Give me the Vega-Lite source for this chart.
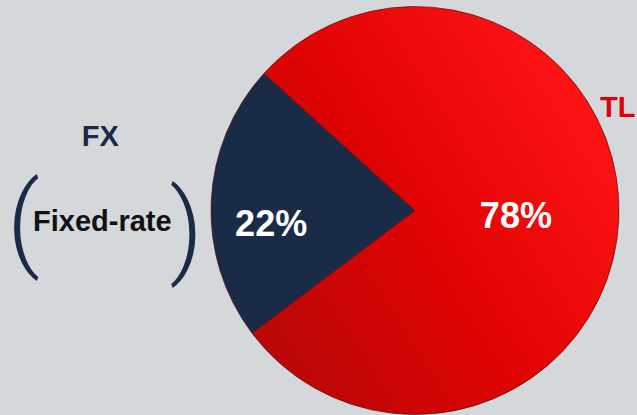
{
  "$schema": "https://vega.github.io/schema/vega-lite/v6.json",
  "width": 410,
  "height": 409,
  "autosize": "none",
  "padding": {"left": 210, "top": 6, "right": 17, "bottom": 0},
  "background": "#d5d8db",
  "config": {"view": {"stroke": null}},
  "data": {"values": [
    {"label": "FX", "share": 0.22, "detail": "Fixed-rate"},
    {"label": "TL", "share": 0.78, "detail": ""}
  ]},
  "encoding": {
    "theta": {"field": "share", "type": "quantitative", "stack": true, "scale": {"range": [4.067, 10.350]}},
    "order": {"field": "label", "sort": "ascending"}
  },
  "layer": [
    {
      "mark": {"type": "arc", "outerRadius": 204, "stroke": "#5a0a0a", "strokeWidth": 0.7},
      "encoding": {
        "fill": {
          "condition": {"test": "datum.label === 'FX'", "value": "#1a2b47"},
          "value": {"gradient": "linear", "x1": 0.1, "y1": 0.95, "x2": 0.95, "y2": 0.35,
            "stops": [{"offset": 0, "color": "#b80808"}, {"offset": 0.5, "color": "#df0303"}, {"offset": 1, "color": "#fc1212"}]}
        }
      }
    },
    {
      "mark": {"type": "text", "radius": 144, "dy": 21, "fontSize": 36, "fontWeight": "bold", "font": "Liberation Sans", "color": "white", "align": "center", "baseline": "middle"},
      "encoding": {"text": {"condition": {"test": "datum.label === 'FX'", "field": "share", "format": ".0%"}, "value": ""}}
    },
    {
      "mark": {"type": "text", "radius": 101, "dy": 2, "fontSize": 36, "fontWeight": "bold", "font": "Liberation Sans", "color": "white", "align": "center", "baseline": "middle"},
      "encoding": {"text": {"condition": {"test": "datum.label === 'TL'", "field": "share", "format": ".0%"}, "value": ""}}
    },
    {
      "mark": {"type": "text", "radius": 315, "dy": -59, "fontSize": 29, "fontWeight": "bold", "font": "Liberation Sans", "color": "#1a2b47", "align": "center", "baseline": "middle"},
      "encoding": {"text": {"condition": {"test": "datum.label === 'FX'", "field": "label"}, "value": ""}}
    },
    {
      "mark": {"type": "text", "radius": 313, "dy": 26, "fontSize": 29, "fontWeight": "bold", "font": "Liberation Sans", "color": "#111111", "align": "center", "baseline": "middle"},
      "encoding": {"text": {"field": "detail"}}
    },
    {
      "mark": {"type": "text", "radius": 392, "dy": 33, "fontSize": 103, "fontWeight": 300, "font": "Roboto", "color": "#1a2b47", "align": "center", "baseline": "middle"},
      "encoding": {"text": {"condition": {"test": "datum.label === 'FX'", "value": "("}, "value": ""}}
    },
    {
      "mark": {"type": "text", "radius": 229, "dy": 33, "fontSize": 103, "fontWeight": 300, "font": "Roboto", "color": "#1a2b47", "align": "center", "baseline": "middle"},
      "encoding": {"text": {"condition": {"test": "datum.label === 'FX'", "value": ")"}, "value": ""}}
    },
    {
      "mark": {"type": "text", "radius": 203, "dy": -112, "fontSize": 29, "fontWeight": "bold", "font": "Liberation Sans", "color": "#e0000b", "align": "center", "baseline": "middle"},
      "encoding": {"text": {"condition": {"test": "datum.label === 'TL'", "field": "label"}, "value": ""}}
    }
  ]
}
